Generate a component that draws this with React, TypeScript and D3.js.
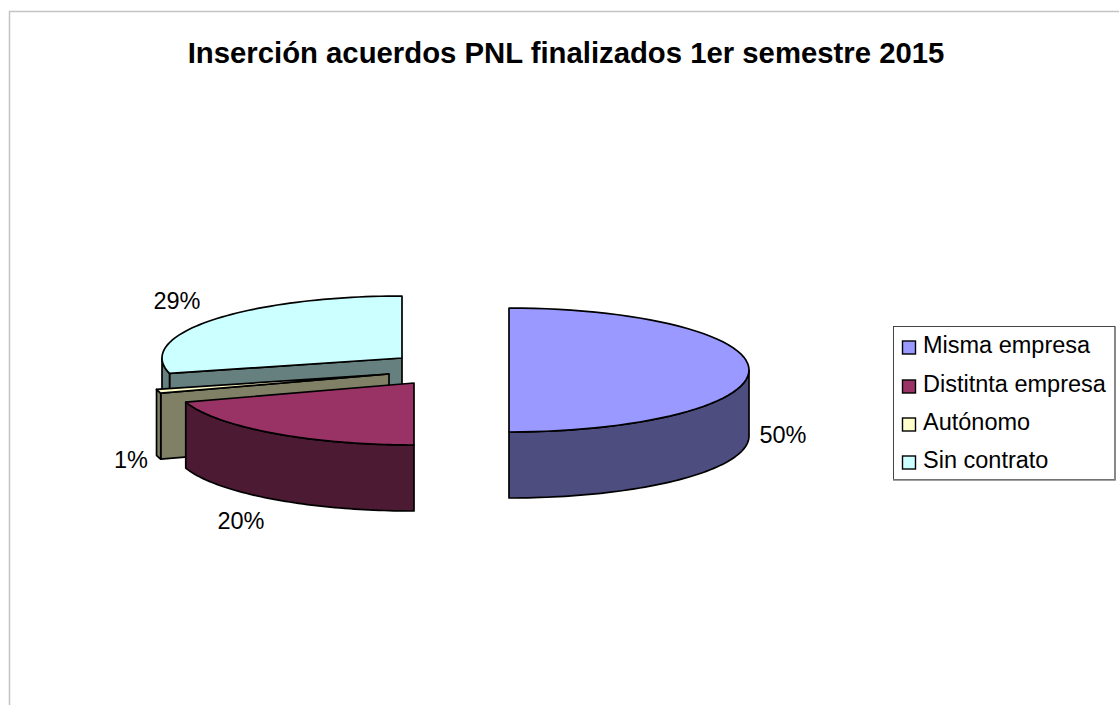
import React from "react";
import * as d3 from "d3";

const categories = ["Misma empresa", "Distitnta empresa", "Autónomo", "Sin contrato"];
const shareValues = [50, 20, 1, 29];
const topColors = ["#9999FF", "#993366", "#FFFFCC", "#CCFFFF"];
const wallColors = ["#4D4D80", "#4D1A33", "#808066", "#668080"];
const titleText = "Inserción acuerdos PNL finalizados 1er semestre 2015";

const W = 1119, H = 705;
const RX = 240, RY = 62, DEPTH = 66;
// Layout of each exploded slice's apex, and of its percentage label
const apexX = [509, 414, 389, 402];
const apexY = [370, 383, 374, 358];
const labelX = [783, 241, 131, 177];
const labelY = [443, 529, 468, 309];
const legendRowBase = [353, 392, 430, 468];

function projector(cx: number, cy: number) {
  return (a: number, dz = 0): [number, number] => [
    cx + RX * Math.sin(a),
    cy - RY * Math.cos(a) + dz,
  ];
}
const sweep = (a0: number, a1: number) =>
  d3.range(0, 61).map((i) => a0 + ((a1 - a0) * i) / 60);
const poly = d3.line();

const pieGen = d3.pie<number>().sort(null).value((d) => d);
const arcs = pieGen(shareValues);
const drawOrder = [3, 2, 1, 0];

function Slice({ i }: { i: number }) {
  const { startAngle: a0, endAngle: a1 } = arcs[i];
  const cx = apexX[i], cy = apexY[i];
  const p = projector(cx, cy);
  const front0 = Math.max(a0, Math.PI / 2);
  const front1 = Math.min(a1, (3 * Math.PI) / 2);
  const walls: string[] = [];
  // radial cut faces that look towards the viewer
  if (Math.cos(a0 - Math.PI / 2) < -1e-6) {
    const [x, y] = p(a0);
    walls.push(poly([[cx, cy], [x, y], [x, y + DEPTH], [cx, cy + DEPTH]])!);
  }
  // outer rim
  if (front1 > front0) {
    const top = sweep(front0, front1).map((a) => p(a));
    const bot = sweep(front1, front0).map((a) => p(a, DEPTH));
    walls.push(poly([...top, ...bot])!);
  }
  const face = [[cx, cy] as [number, number], ...sweep(a0, a1).map((a) => p(a))];
  return (
    <g stroke="#000" strokeWidth={1.7} strokeLinejoin="round">
      {walls.map((d, k) => (
        <path key={k} d={d + "Z"} fill={wallColors[i]} />
      ))}
      <path d={poly(face)! + "Z"} fill={topColors[i]} />
    </g>
  );
}

export default function App() {
  return (
    <svg
      width={W}
      height={H}
      viewBox={`0 0 ${W} ${H}`}
      style={{ position: "fixed", left: 0, top: 0, display: "block", background: "#fff" }}
      fontFamily="'Liberation Sans', Arial, sans-serif"
    >
      <path d={`M9.5 ${H}V11.5H${W}`} fill="none" stroke="#c4c4c4" strokeWidth={1.5} />
      <text x={566} y={63} textAnchor="middle" fontSize={29.3} fontWeight="bold" fill="#000">
        {titleText}
      </text>
      {drawOrder.map((i) => (
        <Slice key={i} i={i} />
      ))}
      {arcs.map((a, i) => (
        <text key={i} x={labelX[i]} y={labelY[i]} textAnchor="middle" fontSize={23.5} fill="#000">
          {`${a.data}%`}
        </text>
      ))}
      <rect x={893.5} y={326.5} width={221.5} height={153} fill="#fff" stroke="#444" strokeWidth={1} />
      <path d="M1115 327V480H893" fill="none" stroke="#808080" strokeWidth={1.5} />
      {categories.map((c, i) => (
        <g key={c}>
          <rect x={902.5} y={legendRowBase[i] - 12} width={13} height={13} fill={topColors[i]} stroke="#000" strokeWidth={1.4} />
          <text x={923} y={legendRowBase[i]} fontSize={23.5} fill="#000">
            {c}
          </text>
        </g>
      ))}
    </svg>
  );
}
